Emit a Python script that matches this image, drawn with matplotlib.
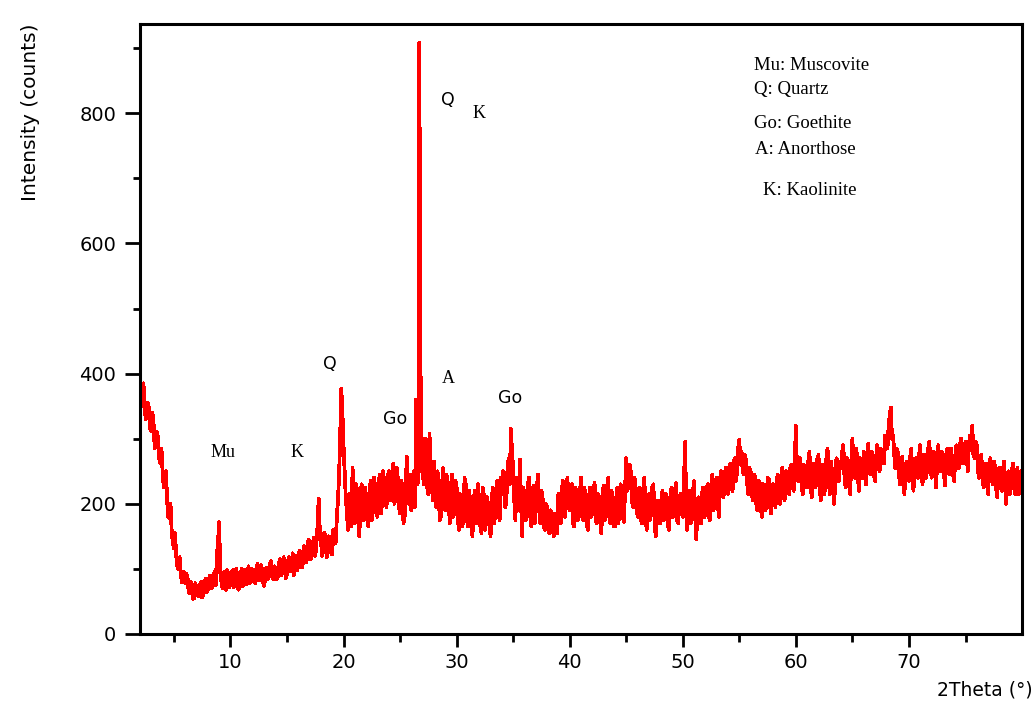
import numpy as np
from matplotlib import pyplot as plt

# counts, on a 0.2 deg grid starting at 2.0 ...
counts_even = [
    405, 372, 360, 338, 345, 312, 325, 290, 300, 262,
    250, 228, 205, 178, 160, 132, 120, 100, 96, 82,
    78, 88, 62, 72, 55, 70, 58, 80, 62, 85,
    68, 90, 72, 95, 120, 172, 80, 95, 68, 92,
    75, 98, 80, 92, 70, 100, 84, 76, 104, 82,
    95, 78, 108, 86, 98, 74, 102, 90, 112, 84,
    100, 88, 115, 95, 108, 92, 118, 100, 90, 120,
    105, 125, 108, 130, 118, 140, 122, 148, 138, 208,
    145, 130, 150, 125, 145, 122, 155, 175, 240, 377,
    290, 210, 160, 205, 255, 170, 220, 150, 230, 175,
    210, 165, 235, 190, 225, 180, 245, 200, 232, 195,
    250, 205, 262, 215, 240, 185, 228, 180, 272, 200,
    190, 250, 360, 240, 450, 250, 300, 225, 308, 230,
    265, 195, 240, 180, 255, 190, 230, 170, 245, 185,
    225, 160, 210, 175, 230, 165, 205, 150, 220, 170,
    200, 155, 215, 170, 192, 150, 225, 180, 235, 175,
    215, 240, 205, 270, 315, 255, 175, 225, 268, 150,
    215, 180, 240, 165, 228, 190, 245, 170, 210, 160,
    195, 155, 185, 150, 175, 215, 170, 235, 180, 240,
    190, 230, 165, 215, 180, 240, 175, 205, 160, 225,
    185, 232, 170, 210, 155, 228, 180, 240, 170, 205,
    165, 225, 185, 215, 172, 270, 230, 250, 195, 235,
    180, 225, 170, 240, 160, 215, 185, 230, 150, 205,
    170, 220, 180, 210, 160, 225, 185, 232, 170, 215,
    180, 295, 160, 220, 175, 235, 145, 210, 170, 225,
    185, 230, 175, 245, 195, 240, 180, 250, 210, 255,
    215, 262, 220, 270, 250, 298, 280, 245, 265, 215,
    250, 205, 240, 190, 232, 180, 225, 195, 238, 185,
    230, 195, 245, 200, 255, 205, 240, 215, 260, 220,
    320, 235, 270, 215, 255, 225, 280, 210, 262, 230,
    275, 205, 260, 225, 285, 215, 250, 200, 270, 235,
    255, 290, 225, 265, 215, 300, 240, 275, 220, 262,
    280, 230, 292, 245, 275, 235, 290, 250, 280, 262,
    300, 320, 348, 305, 255, 280, 230, 272, 215, 265,
    235, 285, 220, 270, 240, 290, 230, 275, 250, 295,
    240, 280, 225, 290, 250, 275, 228, 285, 245, 270,
    235, 290, 255, 300, 262, 295, 250, 305, 320, 270,
    290, 240, 275, 225, 262, 215, 270, 230, 258, 210,
    255, 220, 265, 200, 250, 225, 262, 215, 255, 230,
    240,
]

# ... and the points in between (2.1, 2.3, ... 79.9)
counts_odd = [
    350, 385, 330, 355, 315, 340, 285, 310, 270, 285,
    225, 250, 180, 200, 140, 155, 105, 118, 80, 95,
    92, 65, 80, 54, 78, 60, 75, 56, 78, 64,
    85, 70, 92, 75, 140, 95, 70, 82, 98, 72,
    94, 72, 100, 68, 90, 74, 98, 92, 78, 100,
    80, 102, 82, 106, 78, 98, 84, 108, 88, 104,
    84, 110, 90, 118, 86, 112, 96, 124, 108, 98,
    128, 102, 135, 110, 145, 115, 142, 120, 165, 160,
    120, 155, 118, 150, 130, 160, 140, 205, 300, 340,
    250, 185, 215, 165, 195, 230, 175, 210, 185, 225,
    180, 220, 175, 240, 200, 230, 185, 250, 205, 240,
    215, 248, 200, 255, 195, 235, 170, 230, 210, 245,
    235, 195, 270, 908, 250, 230, 265, 215, 255, 205,
    215, 250, 175, 225, 195, 245, 200, 228, 180, 235,
    180, 215, 165, 240, 180, 220, 175, 200, 180, 230,
    165, 225, 160, 210, 175, 205, 170, 220, 190, 240,
    250, 195, 255, 230, 280, 205, 240, 190, 200, 225,
    175, 230, 185, 215, 170, 225, 195, 220, 165, 200,
    160, 190, 160, 185, 155, 180, 220, 190, 225, 195,
    220, 170, 225, 175, 215, 190, 225, 170, 210, 180,
    220, 175, 215, 180, 210, 175, 225, 185, 220, 165,
    205, 170, 230, 180, 225, 220, 260, 205, 240, 200,
    215, 175, 220, 185, 210, 175, 225, 175, 200, 170,
    205, 175, 215, 165, 210, 180, 220, 175, 210, 185,
    230, 200, 215, 170, 220, 180, 205, 175, 215, 180,
    220, 180, 225, 190, 235, 200, 240, 215, 245, 220,
    255, 225, 265, 235, 285, 260, 250, 275, 230, 255,
    215, 245, 200, 235, 195, 230, 190, 240, 200, 225,
    200, 235, 210, 240, 220, 250, 225, 255, 230, 265,
    250, 265, 230, 260, 225, 265, 230, 255, 225, 270,
    230, 255, 215, 270, 240, 265, 225, 255, 240, 265,
    280, 240, 270, 235, 265, 250, 285, 235, 270, 240,
    245, 275, 250, 280, 245, 270, 255, 285, 270, 305,
    285, 335, 300, 275, 285, 250, 270, 240, 260, 240,
    270, 245, 265, 245, 275, 250, 270, 240, 285, 260,
    275, 250, 270, 255, 280, 245, 270, 250, 285, 245,
    275, 260, 290, 265, 285, 275, 290, 285, 275, 295,
    250, 265, 240, 260, 235, 255, 240, 265, 225, 250,
    230, 250, 225, 240, 215, 250, 225, 245, 215, 250,
]

# extra finely sampled points around the main quartz reflection
peak_theta = [26.36, 26.44, 26.54, 26.64, 26.66, 26.72, 26.74, 26.76, 26.84]
peak_counts = [250, 240, 230, 470, 775, 780, 775, 470, 320]

phase_labels = ["Mu", "K", "Q", "Go", "A", "Go", "Q", "K"]
phase_x = [9.35, 15.9, 18.8, 24.6, 29.3, 34.7, 29.2, 32.0]
phase_y = [279, 279, 414, 331, 393, 363, 820, 799]

legend_lines = ["Mu: Muscovite", "Q: Quartz", "Go: Goethite", "A: Anorthose", "K: Kaolinite"]
legend_x = [56.3, 56.3, 56.3, 56.4, 57.1]
legend_y = [874, 836, 784, 744, 681]

theta_even = 2.0 + 0.2 * np.arange(len(counts_even))
theta_odd = 2.1 + 0.2 * np.arange(len(counts_odd))
x = np.concatenate([theta_even, theta_odd, peak_theta])
y = np.concatenate([counts_even, counts_odd, peak_counts])
order = np.argsort(x)
x, y = x[order], y[order]

fig = plt.figure(figsize=(10.33, 7.11), dpi=100)
ax = fig.add_axes([0.1355, 0.1083, 0.8539, 0.8579])
ax.plot(x, y, color='#ff0000', linewidth=2.0, antialiased=False)

ax.set_xlim(2, 80)
ax.set_ylim(0, 937)
ax.set_xticks([10, 20, 30, 40, 50, 60, 70])
ax.set_xticks([5, 15, 25, 35, 45, 55, 65, 75], minor=True)
ax.set_yticks([0, 200, 400, 600, 800])
ax.set_yticks([100, 300, 500, 700, 900], minor=True)
ax.tick_params(which='major', direction='out', length=9, width=2, labelsize=14, pad=5)
ax.tick_params(axis='y', which='major', length=11, pad=6)
ax.tick_params(axis='x', which='minor', direction='out', length=6, width=2)
ax.tick_params(axis='y', which='minor', direction='out', length=5, width=2)
for s in ax.spines.values():
    s.set_linewidth(2.2)

ax.set_ylabel("Intensity (counts)", fontsize=14.5)
ax.yaxis.set_label_coords(-0.113, 0.855)
fig.text(0.953, 0.030, "2Theta (°)", fontsize=13.5, ha='center', va='center')

for lab, px, py in zip(phase_labels, phase_x, phase_y):
    if lab in ("Go", "Q"):
        ax.text(px, py, lab, fontsize=12.5, family='DejaVu Sans', ha='center', va='center')
    else:
        ax.text(px, py, lab, fontsize=13, family='Liberation Serif', ha='center', va='center')

for lab, px, py in zip(legend_lines, legend_x, legend_y):
    ax.text(px, py, lab, fontsize=13.5, family='Liberation Serif', ha='left', va='center')

fig.savefig("out.png", dpi=100)
